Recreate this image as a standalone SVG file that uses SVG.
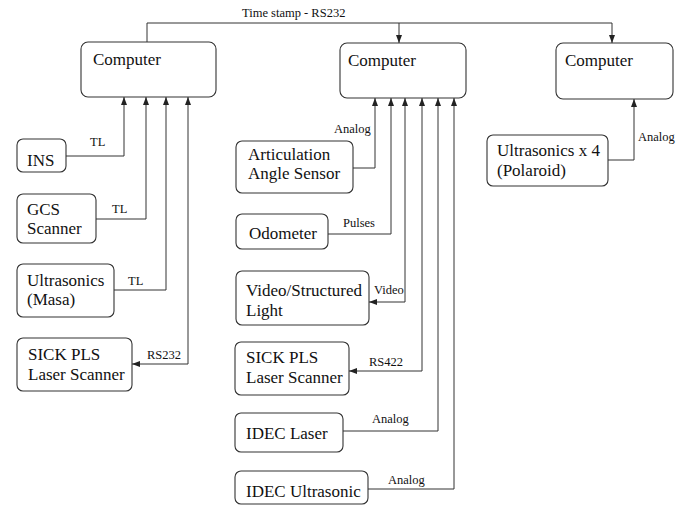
<svg xmlns="http://www.w3.org/2000/svg" width="684" height="506" viewBox="0 0 684 506">
<defs>
<marker id="ah" viewBox="0 0 8 6" refX="8" refY="3" markerWidth="8" markerHeight="6" markerUnits="userSpaceOnUse" orient="auto">
<path d="M0,0 L8,3 L0,6 Z" fill="#222"/>
</marker>
<style>
.box{fill:#fff;stroke:#333;stroke-width:1.1}
.t{font-family:"Liberation Serif","Times New Roman",serif;font-size:17px;fill:#111}
.l{font-family:"Liberation Serif","Times New Roman",serif;font-size:12.5px;fill:#111}
.c{fill:none;stroke:#333;stroke-width:1}
</style>
</defs>
<rect width="684" height="506" fill="#fff"/>
<g id="connectors">
<path class="c" d="M147,42 V23 H612 V43" marker-end="url(#ah)"/>
<path class="c" d="M399,23 V43" marker-end="url(#ah)"/>
<path class="c" d="M66,156 H124 V97" marker-end="url(#ah)"/>
<path class="c" d="M96,219 H146 V97" marker-end="url(#ah)"/>
<path class="c" d="M114,290 H166 V97" marker-end="url(#ah)"/>
<path class="c" d="M188,364 V97" marker-end="url(#ah)"/>
<path class="c" d="M188,364 H132" marker-end="url(#ah)"/>
<path class="c" d="M353,168 H375 V98" marker-end="url(#ah)"/>
<path class="c" d="M328,234 H391 V98" marker-end="url(#ah)"/>
<path class="c" d="M405,302 V98" marker-end="url(#ah)"/>
<path class="c" d="M405,302 H369" marker-end="url(#ah)"/>
<path class="c" d="M422,371 V98" marker-end="url(#ah)"/>
<path class="c" d="M422,371 H349" marker-end="url(#ah)"/>
<path class="c" d="M343,431 H438 V98" marker-end="url(#ah)"/>
<path class="c" d="M368,489 H454 V98" marker-end="url(#ah)"/>
<path class="c" d="M608,160 H634 V99" marker-end="url(#ah)"/>
<text class="l" x="242" y="17">Time stamp - RS232</text>
<text class="l" x="90" y="146">TL</text>
<text class="l" x="112" y="213">TL</text>
<text class="l" x="128" y="285">TL</text>
<text class="l" x="147" y="359">RS232</text>
<text class="l" x="334" y="133">Analog</text>
<text class="l" x="343" y="227">Pulses</text>
<text class="l" x="374" y="294">Video</text>
<text class="l" x="369" y="366">RS422</text>
<text class="l" x="372" y="423">Analog</text>
<text class="l" x="388" y="484">Analog</text>
<text class="l" x="638" y="141">Analog</text>
</g>
<g id="computer1"><rect class="box" x="81" y="42" width="135" height="55" rx="7"/><text class="t" x="93" y="65">Computer</text></g>
<g id="computer2"><rect class="box" x="340" y="43" width="126" height="55" rx="7"/><text class="t" x="348" y="66">Computer</text></g>
<g id="computer3"><rect class="box" x="556" y="43" width="117" height="56" rx="7"/><text class="t" x="565" y="66">Computer</text></g>
<g id="ins"><rect class="box" x="17" y="139" width="49" height="33" rx="6"/><text class="t" x="27" y="166">INS</text></g>
<g id="gcs"><rect class="box" x="17" y="194" width="79" height="49" rx="6"/><text class="t" x="27" y="215">GCS</text><text class="t" x="27" y="234">Scanner</text></g>
<g id="ultra-masa"><rect class="box" x="17" y="264" width="97" height="53" rx="6"/><text class="t" x="27" y="286">Ultrasonics</text><text class="t" x="27" y="305">(Masa)</text></g>
<g id="sick-left"><rect class="box" x="17" y="338" width="115" height="53" rx="6"/><text class="t" x="28" y="360">SICK PLS</text><text class="t" x="28" y="380">Laser Scanner</text></g>
<g id="articulation"><rect class="box" x="236" y="141" width="117" height="52" rx="6"/><text class="t" x="248" y="160">Articulation</text><text class="t" x="248" y="179">Angle Sensor</text></g>
<g id="odometer"><rect class="box" x="236" y="214" width="92" height="35" rx="6"/><text class="t" x="249" y="239">Odometer</text></g>
<g id="video"><rect class="box" x="236" y="271" width="133" height="54" rx="6"/><text class="t" x="246" y="296">Video/Structured</text><text class="t" x="246" y="316">Light</text></g>
<g id="sick-mid"><rect class="box" x="235" y="342" width="114" height="53" rx="6"/><text class="t" x="246" y="363">SICK PLS</text><text class="t" x="246" y="383">Laser Scanner</text></g>
<g id="idec-laser"><rect class="box" x="235" y="413" width="108" height="39" rx="6"/><text class="t" x="246" y="439">IDEC Laser</text></g>
<g id="idec-ultrasonic"><rect class="box" x="235" y="471" width="133" height="33" rx="6"/><text class="t" x="246" y="497">IDEC Ultrasonic</text></g>
<g id="ultra-polaroid"><rect class="box" x="487" y="135" width="121" height="51" rx="6"/><text class="t" x="497" y="156">Ultrasonics x 4</text><text class="t" x="497" y="176">(Polaroid)</text></g>
</svg>
